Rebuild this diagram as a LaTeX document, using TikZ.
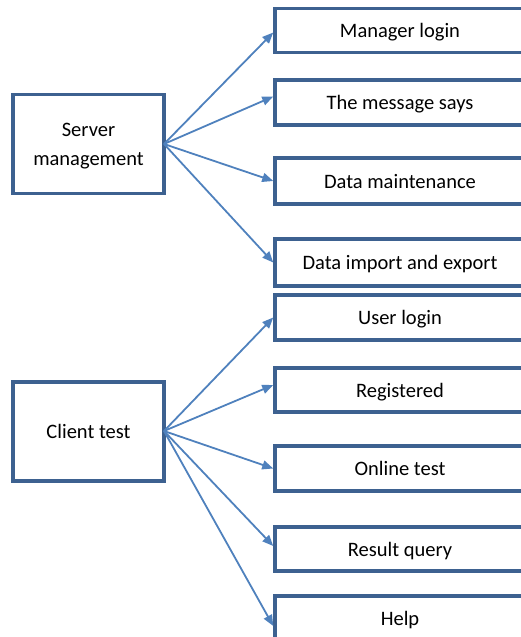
\documentclass[tikz,border=0pt]{standalone}
\usepackage{fontspec}
\setmainfont{Carlito}
\usetikzlibrary{arrows.meta}
\definecolor{boxblue}{HTML}{3D6190}
\definecolor{arrowblue}{HTML}{4F81BD}
\begin{document}
\begin{tikzpicture}[x=1pt,y=-1pt,
  box/.style={draw=boxblue,line width=3.5pt,fill=white,inner sep=0pt,font=\fontsize{20.5}{29}\selectfont,align=center,text depth=0pt},
  conn/.style={draw=arrowblue,line width=1.8pt,-{Triangle[length=11pt,width=9pt]}}]
\useasboundingbox (0,0) rectangle (521,637);
\clip (0,0) rectangle (521,637);
\node[box,minimum width=151pt,minimum height=99pt] (srv) at (88.5,144) {Server\\management};
\node[box,minimum width=151pt,minimum height=99pt] (cli) at (88.5,431.5) {Client test};
\node[box,minimum width=250pt,minimum height=44pt] (r1) at (400,30.5) {Manager login};
\node[box,minimum width=250pt,minimum height=45pt] (r2) at (400,102.5) {The message says};
\node[box,minimum width=250pt,minimum height=46pt] (r3) at (400,181) {Data maintenance};
\node[box,minimum width=250pt,minimum height=47pt] (r4) at (400,262.5) {Data import and export};
\node[box,minimum width=250pt,minimum height=45pt] (c1) at (400,317.5) {User login};
\node[box,minimum width=250pt,minimum height=44pt] (c2) at (400,390) {Registered};
\node[box,minimum width=250pt,minimum height=45pt] (c3) at (400,468.5) {Online test};
\node[box,minimum width=250pt,minimum height=44pt] (c4) at (400,549) {Result query};
\node[box,minimum width=250pt,minimum height=44pt] (c5) at (400,618) {Help};
\coordinate (srvE) at (164,144);
\coordinate (cliE) at (164,431);
\draw[conn] (srvE) -- ([yshift=-2pt]r1.west);
\draw[conn] (srvE) -- ([yshift=6pt]r2.west);
\draw[conn] (srvE) -- (r3.west);
\draw[conn] (srvE) -- (r4.west);
\draw[conn] (cliE) -- (c1.west);
\draw[conn] (cliE) -- ([yshift=5pt]c2.west);
\draw[conn] (cliE) -- (c3.west);
\draw[conn] (cliE) -- ([yshift=3pt]c4.west);
\draw[conn] (cliE) -- ([yshift=-8pt]c5.west);
\end{tikzpicture}
\end{document}
